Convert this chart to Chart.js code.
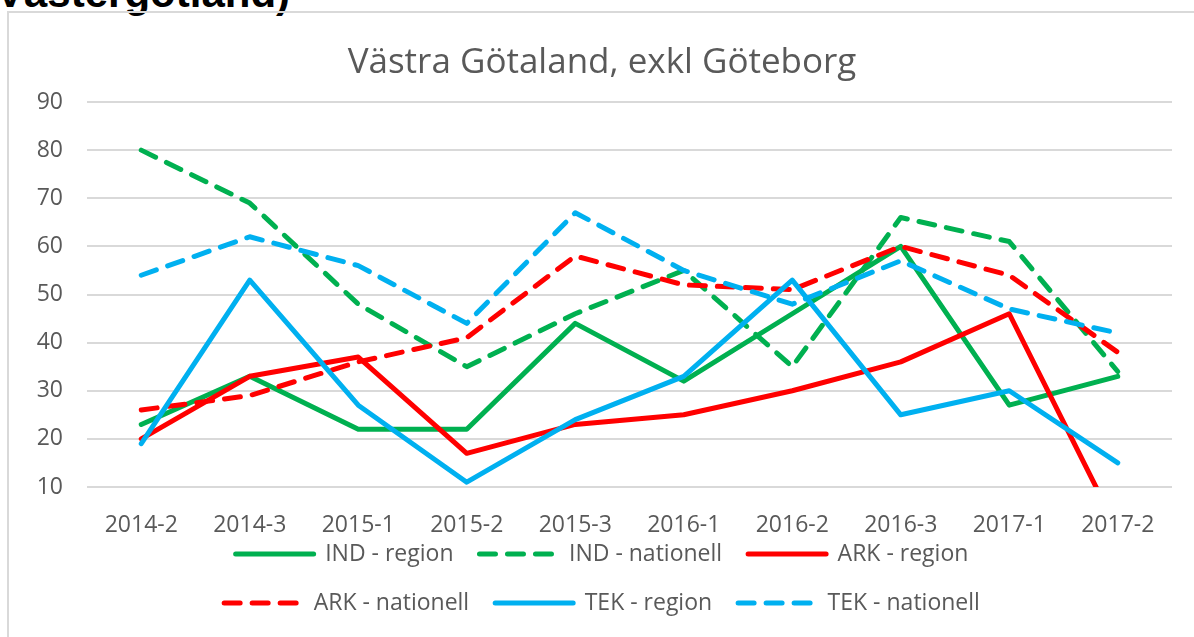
<!DOCTYPE html>
<html lang="sv">
<head>
    <meta charset="UTF-8">
    <title>Västra Götaland, exkl Göteborg</title>
    <script src="https://cdn.jsdelivr.net/npm/chart.js"></script>
    <style>
        html, body {
            margin: 0;
            padding: 0;
            background: #fff;
            overflow: hidden;
        }
        .page {
            position: relative;
            width: 1194px;
            height: 637px;
            overflow: hidden;
        }
        .heading {
            position: absolute;
            left: -4px;
            top: -28px;
            font-family: 'Liberation Sans', Arial, sans-serif;
            font-weight: bold;
            font-size: 42px;
            line-height: 42px;
            color: #000;
            white-space: nowrap;
        }
        .frame {
            position: absolute;
            left: 7px;
            top: 11px;
            width: 1300px;
            height: 700px;
            border-top: 2px solid #d9d9d9;
            border-left: 2px solid #d9d9d9;
        }
        #chart {
            position: absolute;
            left: 0;
            top: 0;
        }
    </style>
</head>
<body>
    <div class="page">
        <div class="heading">Västergötland)</div>
        <div class="frame"></div>
        <canvas id="chart" width="1194" height="637"></canvas>
    </div>
    <script>
        const periods = ['2014-2', '2014-3', '2015-1', '2015-2', '2015-3', '2016-1', '2016-2', '2016-3', '2017-1', '2017-2'];

        const indRegion    = [23, 33, 22, 22, 44, 32, 46, 60, 27, 33];
        const indNationell = [80, 69, 48, 35, 46, 55, 35, 66, 61, 34];
        const arkRegion    = [20, 33, 37, 17, 23, 25, 30, 36, 46, 1];
        const arkNationell = [26, 29, 36, 41, 58, 52, 51, 60, 54, 38];
        const tekRegion    = [19, 53, 27, 11, 24, 33, 53, 25, 30, 15];
        const tekNationell = [54, 62, 56, 44, 67, 55, 48, 57, 47, 42];

        const yTicks = [10, 20, 30, 40, 50, 60, 70, 80, 90];

        const GREEN = '#00b050';
        const RED = '#ff0000';
        const BLUE = '#00b0f0';
        const TEXT = '#595959';
        const GRID = '#d9d9d9';
        const DASH = [16, 12];

        function series(label, data, color, dashed, order) {
            return {
                label: label,
                data: data,
                borderColor: color,
                backgroundColor: color,
                borderWidth: 5,
                borderDash: dashed ? DASH : [],
                borderCapStyle: 'round',
                borderJoinStyle: 'round',
                pointRadius: 0,
                pointHoverRadius: 0,
                tension: 0,
                fill: false,
                order: order
            };
        }

        // Excel puts three legend entries per row and sits the legend close under the labels
        const legendLayout = {
            id: 'legendLayout',
            beforeLayout(chart) {
                const legend = chart.legend;
                if (!legend || legend._rowsWrapped) return;
                legend._rowsWrapped = true;
                const fit = legend.fit.bind(legend);
                legend.fit = function () {
                    const full = this.maxWidth;
                    this.maxWidth = Math.min(full, 900);
                    fit();
                    this.maxWidth = full;
                    this.width = full;
                };
            },
            afterLayout(chart) {
                const legend = chart.legend;
                if (!legend) return;
                legend.top -= 22.5;
                legend.bottom -= 22.5;
            }
        };

        Chart.defaults.font.family = "'Open Sans', sans-serif";
        Chart.defaults.color = TEXT;

        const ctx = document.getElementById('chart').getContext('2d');
        new Chart(ctx, {
            type: 'line',
            data: {
                labels: periods,
                datasets: [
                    series('IND - region', indRegion, GREEN, false, 6),
                    series('IND - nationell', indNationell, GREEN, true, 5),
                    series('ARK - region', arkRegion, RED, false, 4),
                    series('ARK - nationell', arkNationell, RED, true, 3),
                    series('TEK - region', tekRegion, BLUE, false, 2),
                    series('TEK - nationell', tekNationell, BLUE, true, 1)
                ]
            },
            options: {
                responsive: false,
                animation: false,
                devicePixelRatio: 1,
                layout: {
                    padding: { top: 0, right: 22, bottom: -10, left: 32 }
                },
                plugins: {
                    title: {
                        display: true,
                        text: 'Västra Götaland, exkl Göteborg',
                        color: TEXT,
                        font: { size: 35, weight: 'normal' },
                        padding: { top: 42, bottom: 18 }
                    },
                    legend: {
                        position: 'bottom',
                        labels: {
                            color: TEXT,
                            font: { size: 23 },
                            usePointStyle: true,
                            pointStyle: 'line',
                            pointStyleWidth: 78,
                            padding: 26,
                            sort: (a, b) => a.datasetIndex - b.datasetIndex,
                            generateLabels(chart) {
                                const items = Chart.defaults.plugins.legend.labels.generateLabels(chart);
                                items.forEach(item => {
                                    item.lineDash = chart.data.datasets[item.datasetIndex].borderDash;
                                    item.lineCap = 'round';
                                });
                                return items;
                            }
                        }
                    },
                    tooltip: { enabled: false }
                },
                scales: {
                    x: {
                        offset: true,
                        grid: { display: false },
                        border: { display: false },
                        ticks: {
                            color: TEXT,
                            font: { size: 23 },
                            padding: 17,
                            maxRotation: 0,
                            autoSkip: false
                        },
                        afterFit: (scale) => { scale.height = 52; }
                    },
                    y: {
                        min: yTicks[0],
                        max: yTicks[yTicks.length - 1],
                        grid: { color: GRID, lineWidth: 2, drawTicks: false },
                        border: { display: false },
                        ticks: {
                            stepSize: 10,
                            color: TEXT,
                            font: { size: 23 },
                            padding: 24
                        },
                        afterFit: (scale) => { scale.width = 55; }
                    }
                }
            },
            plugins: [legendLayout]
        });
    </script>
</body>
</html>
